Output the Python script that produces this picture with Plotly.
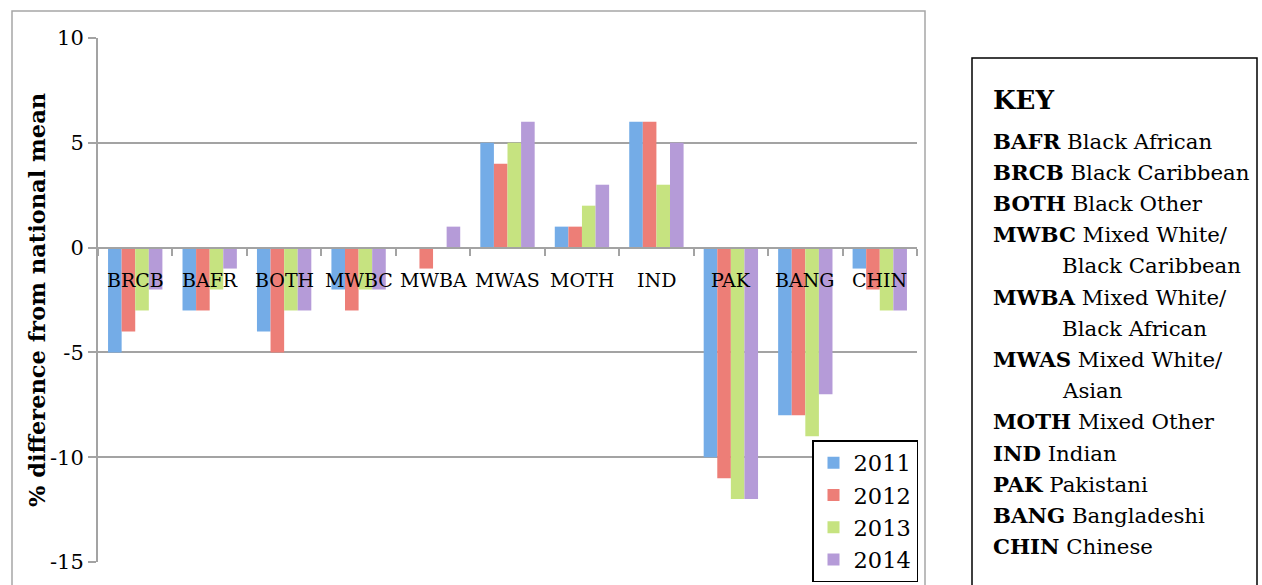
import plotly.graph_objects as go

# ---------------- data ----------------
categories = ["BRCB", "BAFR", "BOTH", "MWBC", "MWBA", "MWAS", "MOTH", "IND", "PAK", "BANG", "CHIN"]
years = ["2011", "2012", "2013", "2014"]
v2011 = [-5, -3, -4, -2, 0, 5, 1, 6, -10, -8, -1]
v2012 = [-4, -3, -5, -3, -1, 4, 1, 6, -11, -8, -2]
v2013 = [-3, -2, -3, -2, 0, 5, 2, 3, -12, -9, -3]
v2014 = [-2, -1, -3, -2, 1, 6, 3, 5, -12, -7, -3]
y_ticks = [10, 5, 0, -5, -10, -15]
y_title = "% difference from national mean"

key_title = "KEY"
key_codes = ["BAFR", "BRCB", "BOTH", "MWBC", "", "MWBA", "", "MWAS", "", "MOTH", "IND", "PAK", "BANG", "CHIN"]
key_names = ["Black African", "Black Caribbean", "Black Other", "Mixed White/", "Black Caribbean",
             "Mixed White/", "Black African", "Mixed White/", "Asian", "Mixed Other", "Indian",
             "Pakistani", "Bangladeshi", "Chinese"]

# ---------------- style ----------------
colors = ["#74ace7", "#ed7e77", "#c6e380", "#b59bd8"]
FONT = "DejaVu Serif"
GRID = "#a3a3a3"
W, H = 1262, 585
L, R, T, B = 98, 917, 38, 562    # plot area in page pixels


def px(x):
    return (x - L) / (R - L)


def py(y):
    return (B - y) / (B - T)


series = [v2011, v2012, v2013, v2014]
fig = go.Figure()
for name, vals, col in zip(years, series, colors):
    fig.add_trace(go.Bar(x=categories, y=vals, name=name,
                         marker=dict(color=col, line=dict(width=0))))

annotations = []
# category labels next to the zero line
for c in categories:
    annotations.append(dict(x=c, y=0, xref="x", yref="y", text=c, showarrow=False,
                            yshift=-32, yanchor="middle",
                            font=dict(family=FONT, size=19, color="black")))
# y title
annotations.append(dict(x=px(37), y=0.5, xref="paper", yref="paper", text="<b>" + y_title + "</b>",
                        textangle=-90, showarrow=False, xanchor="center", yanchor="middle",
                        font=dict(family=FONT, size=22.5, color="black")))
# key
annotations.append(dict(x=px(991), y=py(100), xref="paper", yref="paper", text="<b>" + key_title + "</b>",
                        showarrow=False, xanchor="left", yanchor="middle",
                        font=dict(family=FONT, size=26, color="black")))
for i, (code, nm) in enumerate(zip(key_codes, key_names)):
    yc = 141 + i * 31.2
    if code:
        txt = "<b>" + code + "</b> " + nm
        xx = 991
    else:
        txt = nm
        xx = 1060
    annotations.append(dict(x=px(xx), y=py(yc), xref="paper", yref="paper", text=txt,
                            showarrow=False, xanchor="left", yanchor="middle",
                            font=dict(family=FONT, size=21.3, color="black")))

shapes = [
    # outer chart border
    dict(type="rect", xref="paper", yref="paper", x0=px(12), x1=px(925), y0=py(640), y1=py(11),
         line=dict(color="#a6a6a6", width=1.5), layer="below"),
    # key box
    dict(type="rect", xref="paper", yref="paper", x0=px(972), x1=px(1257), y0=py(640), y1=py(58),
         line=dict(color="black", width=1.5)),
]

fig.update_layout(
    width=W, height=H,
    margin=dict(l=L, r=W - R, t=T, b=H - B, pad=0, autoexpand=False),
    paper_bgcolor="white", plot_bgcolor="white",
    barmode="group", bargap=0.27, bargroupgap=0,
    showlegend=True,
    legend=dict(x=px(918), xanchor="right", y=py(582), yanchor="bottom",
                bgcolor="white", bordercolor="black", borderwidth=1.5,
                font=dict(family=FONT, size=22.5, color="black"),
                tracegroupgap=0, itemwidth=30),
    annotations=annotations,
    shapes=shapes,
    font=dict(family=FONT, color="black"),
)
fig.update_xaxes(type="category", range=[-0.5, len(categories) - 0.5],
                 anchor="free", position=0.6, showline=True, linecolor=GRID, linewidth=2,
                 ticks="outside", ticklen=7, tickcolor=GRID, tickwidth=2, tickson="boundaries",
                 showticklabels=False, showgrid=False, zeroline=False)
fig.update_yaxes(range=[-15, 10], tickvals=y_ticks, ticktext=[str(v) for v in y_ticks],
                 showgrid=True, gridcolor=GRID, gridwidth=2,
                 showline=True, linecolor=GRID, linewidth=2, zeroline=False,
                 ticks="outside", ticklen=8, tickcolor=GRID, tickwidth=2,
                 ticklabelstandoff=0,
                 tickfont=dict(family=FONT, size=21, color="black"))

fig.write_html("out.html", config={"displayModeBar": False},
               post_script="document.body.style.margin='0';document.body.style.overflow='hidden';")
